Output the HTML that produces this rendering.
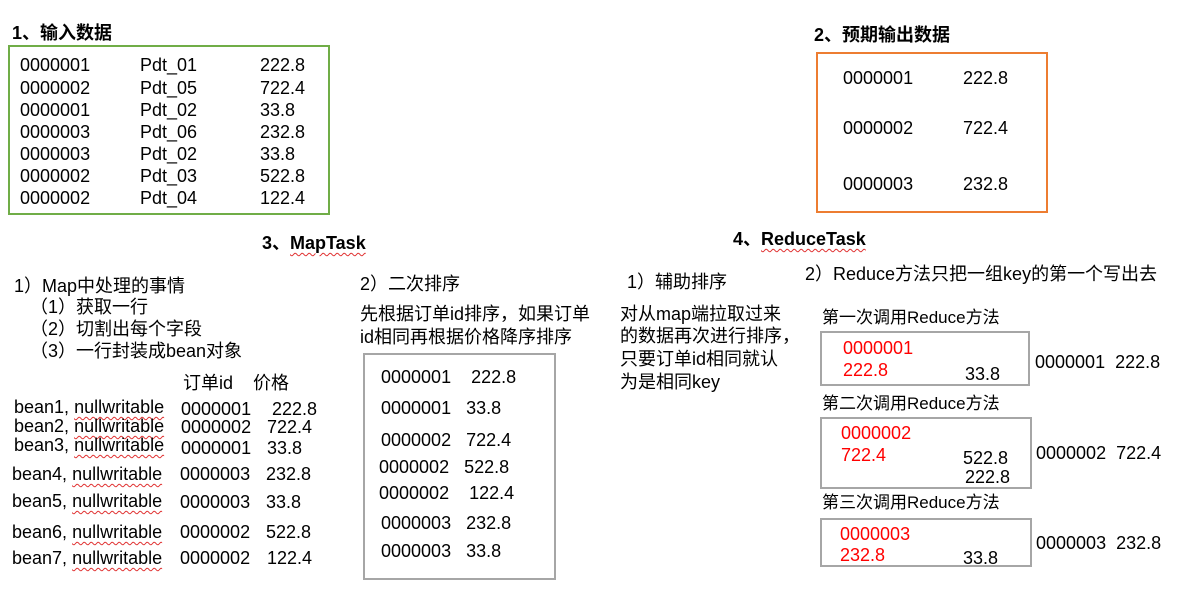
<!DOCTYPE html>
<html><head><meta charset="utf-8"><style>
body{margin:0;width:1177px;height:591px;background:#fff;position:relative;overflow:hidden;font-family:"Liberation Sans","Noto Sans CJK SC",sans-serif;color:#000}
.t{position:absolute;font-size:18px;line-height:20px;white-space:pre}
.h{font-weight:bold;font-size:18px}
.s{font-size:18px}
.l{font-size:17px}
.r{color:#f00}
.w{text-decoration:underline wavy #e03030;text-decoration-thickness:1px;text-underline-offset:3px}
.b{position:absolute;box-sizing:border-box}
</style></head><body>
<div class="b" style="left:8px;top:45px;width:322px;height:170px;border:2px solid #70ad47"></div>
<div class="b" style="left:816px;top:52px;width:232px;height:161px;border:2px solid #ed7d31"></div>
<div class="b" style="left:363px;top:353px;width:193px;height:227px;border:2px solid #a6a6a6"></div>
<div class="b" style="left:820px;top:331px;width:210px;height:55px;border:2px solid #a6a6a6"></div>
<div class="b" style="left:820px;top:417px;width:212px;height:72px;border:2px solid #a6a6a6"></div>
<div class="b" style="left:820px;top:518px;width:212px;height:49px;border:2px solid #a6a6a6"></div>

<div class="t h" style="left:12px;top:23px">1、输入数据</div>
<div class="t h" style="left:814px;top:25px">2、预期输出数据</div>
<div class="t h" style="left:262px;top:233px">3、<span class="w">MapTask</span></div>
<div class="t h" style="left:733px;top:229px">4、<span class="w">ReduceTask</span></div>

<div class="t" style="left:20px;top:55px">0000001</div><div class="t" style="left:140px;top:55px">Pdt_01</div><div class="t" style="left:260px;top:55px">222.8</div>
<div class="t" style="left:20px;top:78px">0000002</div><div class="t" style="left:140px;top:78px">Pdt_05</div><div class="t" style="left:260px;top:78px">722.4</div>
<div class="t" style="left:20px;top:100px">0000001</div><div class="t" style="left:140px;top:100px">Pdt_02</div><div class="t" style="left:260px;top:100px">33.8</div>
<div class="t" style="left:20px;top:122px">0000003</div><div class="t" style="left:140px;top:122px">Pdt_06</div><div class="t" style="left:260px;top:122px">232.8</div>
<div class="t" style="left:20px;top:144px">0000003</div><div class="t" style="left:140px;top:144px">Pdt_02</div><div class="t" style="left:260px;top:144px">33.8</div>
<div class="t" style="left:20px;top:166px">0000002</div><div class="t" style="left:140px;top:166px">Pdt_03</div><div class="t" style="left:260px;top:166px">522.8</div>
<div class="t" style="left:20px;top:188px">0000002</div><div class="t" style="left:140px;top:188px">Pdt_04</div><div class="t" style="left:260px;top:188px">122.4</div>

<div class="t" style="left:843px;top:68px">0000001</div><div class="t" style="left:963px;top:68px">222.8</div>
<div class="t" style="left:843px;top:118px">0000002</div><div class="t" style="left:963px;top:118px">722.4</div>
<div class="t" style="left:843px;top:174px">0000003</div><div class="t" style="left:963px;top:174px">232.8</div>

<div class="t" style="left:14px;top:276px">1）Map中处理的事情</div>
<div class="t" style="left:30px;top:297px">（1）获取一行</div>
<div class="t" style="left:30px;top:319px">（2）切割出每个字段</div>
<div class="t" style="left:30px;top:341px">（3）一行封装成bean对象</div>
<div class="t" style="left:183px;top:373px">订单id    价格</div>
<div class="t" style="left:14px;top:397px">bean1, <span class="w">nullwritable</span></div><div class="t" style="left:181px;top:399px">0000001</div><div class="t" style="left:272px;top:399px">222.8</div>
<div class="t" style="left:14px;top:416px">bean2, <span class="w">nullwritable</span></div><div class="t" style="left:181px;top:417px">0000002</div><div class="t" style="left:267px;top:417px">722.4</div>
<div class="t" style="left:14px;top:435px">bean3, <span class="w">nullwritable</span></div><div class="t" style="left:181px;top:438px">0000001</div><div class="t" style="left:267px;top:438px">33.8</div>
<div class="t" style="left:12px;top:464px">bean4, <span class="w">nullwritable</span></div><div class="t" style="left:180px;top:464px">0000003</div><div class="t" style="left:266px;top:464px">232.8</div>
<div class="t" style="left:12px;top:491px">bean5, <span class="w">nullwritable</span></div><div class="t" style="left:180px;top:492px">0000003</div><div class="t" style="left:266px;top:492px">33.8</div>
<div class="t" style="left:12px;top:522px">bean6, <span class="w">nullwritable</span></div><div class="t" style="left:180px;top:522px">0000002</div><div class="t" style="left:266px;top:522px">522.8</div>
<div class="t" style="left:12px;top:548px">bean7, <span class="w">nullwritable</span></div><div class="t" style="left:180px;top:548px">0000002</div><div class="t" style="left:267px;top:548px">122.4</div>

<div class="t" style="left:360px;top:274px">2）二次排序</div>
<div class="t s" style="left:360px;top:304px">先根据订单id排序，如果订单</div>
<div class="t s" style="left:360px;top:327px">id相同再根据价格降序排序</div>
<div class="t" style="left:381px;top:367px">0000001    222.8</div>
<div class="t" style="left:381px;top:398px">0000001   33.8</div>
<div class="t" style="left:381px;top:430px">0000002   722.4</div>
<div class="t" style="left:379px;top:457px">0000002   522.8</div>
<div class="t" style="left:379px;top:483px">0000002    122.4</div>
<div class="t" style="left:381px;top:513px">0000003   232.8</div>
<div class="t" style="left:381px;top:541px">0000003   33.8</div>

<div class="t" style="left:627px;top:272px">1）辅助排序</div>
<div class="t" style="left:620px;top:304px">对从map端拉取过来</div>
<div class="t" style="left:620px;top:326px">的数据再次进行排序，</div>
<div class="t" style="left:620px;top:349px">只要订单id相同就认</div>
<div class="t" style="left:620px;top:372px">为是相同key</div>

<div class="t" style="left:805px;top:264px">2）Reduce方法只把一组key的第一个写出去</div>
<div class="t l" style="left:822px;top:308px">第一次调用Reduce方法</div>
<div class="t l" style="left:822px;top:394px">第二次调用Reduce方法</div>
<div class="t l" style="left:822px;top:493px">第三次调用Reduce方法</div>

<div class="t r" style="left:843px;top:338px">0000001</div><div class="t r" style="left:843px;top:360px">222.8</div><div class="t" style="left:965px;top:364px">33.8</div>
<div class="t" style="left:1035px;top:352px">0000001  222.8</div>
<div class="t r" style="left:841px;top:423px">0000002</div><div class="t r" style="left:841px;top:445px">722.4</div><div class="t" style="left:963px;top:448px">522.8</div><div class="t" style="left:965px;top:467px">222.8</div>
<div class="t" style="left:1036px;top:443px">0000002  722.4</div>
<div class="t r" style="left:840px;top:524px">0000003</div><div class="t r" style="left:840px;top:545px">232.8</div><div class="t" style="left:963px;top:548px">33.8</div>
<div class="t" style="left:1036px;top:533px">0000003  232.8</div>
</body></html>
